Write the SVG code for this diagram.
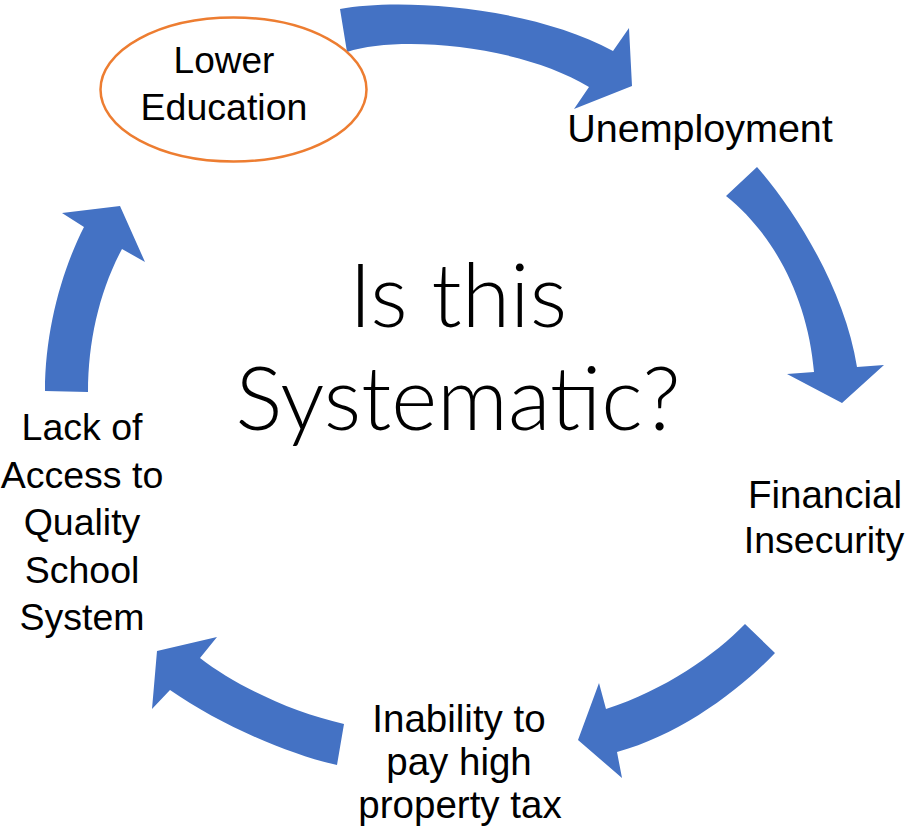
<svg xmlns="http://www.w3.org/2000/svg" width="911" height="836" viewBox="0 0 911 836">
<style>
.arrow{fill:#4472C4;stroke:none}
.lbl{font-family:"Liberation Sans",Arial,sans-serif;font-size:38.5px;fill:#000;text-anchor:middle}
.side{font-size:37.5px}
.title{font-family:Lato,"Liberation Sans",sans-serif;font-weight:300;font-size:88px;fill:#000;text-anchor:middle}
</style>
<rect width="911" height="836" fill="#fff"/>
<g id="connectors">
<path class="arrow" d="M340,9 C400,-2 530,6 613,51 L629,28 L632,86 L574,109 L589,87 C520,45 400,35 347,52 Z"/>
<path class="arrow" d="M757,167 C795,210 845,290 857,367 L884,365 L842,403 L787,374 L814,372 C808,300 775,235 726,196 Z"/>
<path class="arrow" d="M775,653 C740,690 680,735 617,752 L622,778 L578,740 L599,683 L606,709 C665,690 715,655 745,624 Z"/>
<path class="arrow" d="M337,765 C290,755 220,725 170,690 L152,709 L157,651 L217,637 L200,658 C235,685 290,712 344,724 Z"/>
<path class="arrow" d="M45,391 C45,330 62,270 84,227 L62,213 L120,206 L145,262 L122,249 C100,290 88,340 88,392 Z"/>
</g>
<g id="lower-education">
<ellipse cx="233.5" cy="89.5" rx="133" ry="72" fill="#fff" stroke="#ED7D31" stroke-width="2.5"/>
<text class="lbl" x="224" y="73" style="font-size:37px">Lower</text>
<text class="lbl" x="224" y="120" style="font-size:37.5px">Education</text>
</g>
<g id="unemployment">
<text class="lbl" x="700" y="142" style="font-size:39.5px">Unemployment</text>
</g>
<g id="financial-insecurity">
<text class="lbl" x="825" y="508">Financial</text>
<text class="lbl side" x="824" y="553">Insecurity</text>
</g>
<g id="inability">
<text class="lbl" x="459" y="732">Inability to</text>
<text class="lbl" x="459" y="775">pay high</text>
<text class="lbl" x="460" y="818">property tax</text>
</g>
<g id="lack-of-access">
<text class="lbl side" x="82" y="440">Lack of</text>
<text class="lbl side" x="82" y="488">Access to</text>
<text class="lbl side" x="82" y="535">Quality</text>
<text class="lbl side" x="82" y="583">School</text>
<text class="lbl side" x="82" y="630">System</text>
</g>
<g id="center">
<text class="title" x="458" y="327">Is this</text>
<text class="title" x="458" y="430">Systematic?</text>
</g>
</svg>
